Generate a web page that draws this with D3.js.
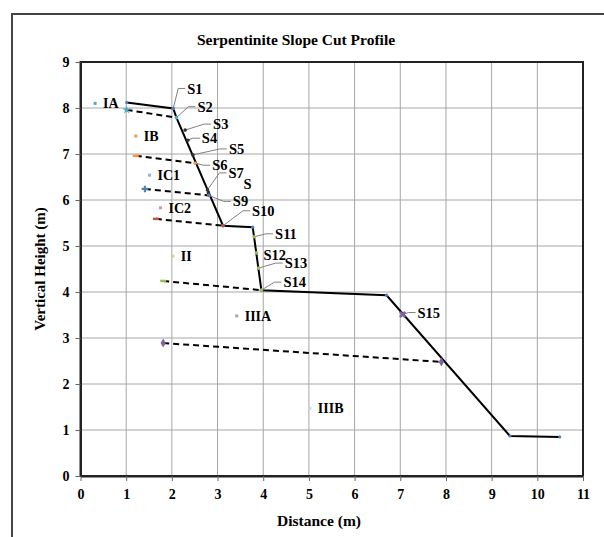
<!DOCTYPE html>
<meta charset="utf-8">
<script src="https://d3js.org/d3.v7.min.js"></script>
<style>
    body { margin: 0; background: #fff; }
    text { font-family: "Liberation Serif", "Times New Roman", serif; font-weight: bold; fill: #000; }
</style>
<div id="my_dataviz"></div>
<script>

    // profile of the cut (solid line)
    var profileX = [1.01, 2.03, 2.10, 3.12, 3.77, 3.96, 6.70, 9.40, 10.49];
    var profileY = [8.12, 7.99, 7.79, 5.44, 5.41, 4.04, 3.93, 0.87, 0.85];

    // stations along the profile
    var stationNames = ["S1", "S2", "S3", "S4", "S5", "S6", "S7", "S", "S9", "S10", "S11", "S12", "S13", "S14", "S15"];
    var stationX = [2.03, 2.10, 2.29, 2.35, 2.46, 2.51, 2.78, 2.80, 2.81, 3.12, 3.80, 3.85, 3.90, 3.96, 7.05];
    var stationY = [7.99, 7.79, 7.52, 7.30, 6.98, 6.80, 6.22, 6.16, 6.10, 5.44, 5.20, 4.85, 4.52, 4.04, 3.51];

    // zone labels
    var zoneNames = ["IA", "IB", "IC1", "IC2", "II", "IIIA", "IIIB"];
    var zoneX = [0.32, 1.21, 1.51, 1.75, 2.02, 3.42, 5.02];
    var zoneY = [8.10, 7.39, 6.54, 5.83, 4.78, 3.48, 1.47];

    // dashed zone boundaries
    var dashX1 = [1.01, 1.21, 1.41, 1.65, 1.81, 1.81];
    var dashY1 = [7.96, 6.96, 6.24, 5.59, 4.24, 2.89];
    var dashX2 = [2.10, 2.51, 2.81, 3.12, 3.96, 7.90];
    var dashY2 = [7.79, 6.80, 6.10, 5.44, 4.04, 2.48];

    var xTicks = [0, 1, 2, 3, 4, 5, 6, 7, 8, 9, 10, 11];
    var yTicks = [0, 1, 2, 3, 4, 5, 6, 7, 8, 9];

    // styling (not data)
    var stationColor = ["#4F81BD", "#4BACC6", "#333", "#333", "#333", "#F79646", "#333", "#333", "#4F81BD", "#C0504D", "#9BBB59", "#9BBB59", "#9BBB59", "#9BBB59", "#8064A2"];
    // label offset from the point in px: [dx to text start, dy to text middle, leader?]
    var stationLabel = [[14, -20, 1], [21, -11, 1], [28, -6, 1], [14, -2, 1], [36, -6, 1], [17, 2, 1], [21, -17, 1], [35, -9, 0],
        [24, 6, 1], [29, -15, 1], [21, -3, 1], [7, 2, 0], [26, -5, 1], [22, -8, 1], [15, -2, 1]];
    var zoneColor = ["#4BACC6", "#F79646", "#95B3D7", "#D99694", "#C3D69B", "#A6A6A6", "#B7DEE8"];
    var dashColor = ["#4BACC6", "#F79646", "#4F81BD", "#C0504D", "#9BBB59", "#8064A2"];
    var dashSymbol = [d3.symbolStar, "dash", d3.symbolCross, "dash", "dash", d3.symbolDiamond];

    var width = 604, height = 537;

    var svg = d3.select("#my_dataviz")
        .append("svg")
        .attr("width", width)
        .attr("height", height);

    svg.append("rect").attr("width", width).attr("height", height).attr("fill", "#fff");

    // outer chart frame (runs off the page at right and bottom)
    svg.append("rect")
        .attr("x", 12).attr("y", 14)
        .attr("width", 640).attr("height", 600)
        .attr("fill", "none").attr("stroke", "#444").attr("stroke-width", 2);

    var x = d3.scaleLinear().domain([0, 11]).range([80.5, 583]);
    var y = d3.scaleLinear().domain([0, 9]).range([476, 62]);

    // grid
    svg.append("g").selectAll("line").data(xTicks).enter().append("line")
        .attr("x1", function(d) { return x(d); }).attr("x2", function(d) { return x(d); })
        .attr("y1", y(0)).attr("y2", y(9))
        .attr("stroke", "#a6a6a6").attr("stroke-width", 1);
    svg.append("g").selectAll("line").data(yTicks).enter().append("line")
        .attr("y1", function(d) { return y(d); }).attr("y2", function(d) { return y(d); })
        .attr("x1", x(0)).attr("x2", x(11))
        .attr("stroke", "#a6a6a6").attr("stroke-width", 1);

    // plot border
    svg.append("rect")
        .attr("x", x(0)).attr("y", y(9))
        .attr("width", x(11) - x(0)).attr("height", y(0) - y(9))
        .attr("fill", "none").attr("stroke", "#222").attr("stroke-width", 2);

    // axes
    var xAxis = svg.append("g")
        .attr("transform", "translate(0," + y(0) + ")")
        .call(d3.axisBottom(x).tickValues(xTicks).tickFormat(d3.format("d")).tickSize(5).tickSizeOuter(0));
    var yAxis = svg.append("g")
        .attr("transform", "translate(" + x(0) + ",0)")
        .call(d3.axisLeft(y).tickValues(yTicks).tickFormat(d3.format("d")).tickSize(5).tickSizeOuter(0));
    [xAxis, yAxis].forEach(function(a) {
        a.attr("font-size", 14).attr("font-family", "'Liberation Serif', serif");
        a.select(".domain").attr("stroke", "#222").attr("stroke-width", 2);
        a.selectAll(".tick line").attr("stroke", "#666");
        a.selectAll(".tick text")
            .style("font-weight", "bold").style("font-size", "14px").attr("fill", "#000");
    });
    xAxis.selectAll(".tick text").attr("dy", "1.05em");
    yAxis.selectAll(".tick text").attr("x", -11);

    // dashed boundaries
    svg.append("g").selectAll("line").data(dashX1).enter().append("line")
        .attr("x1", function(d) { return x(d); })
        .attr("y1", function(d, i) { return y(dashY1[i]); })
        .attr("x2", function(d, i) { return x(dashX2[i]); })
        .attr("y2", function(d, i) { return y(dashY2[i]); })
        .attr("stroke", "#000").attr("stroke-width", 2).attr("stroke-dasharray", "6,4");

    // profile
    var line = d3.line()
        .x(function(d) { return x(d); })
        .y(function(d, i) { return y(profileY[i]); });
    svg.append("path").datum(profileX)
        .attr("d", line)
        .attr("fill", "none").attr("stroke", "#000").attr("stroke-width", 2);

    // profile vertices
    svg.append("g").selectAll("circle").data(profileX).enter().append("circle")
        .attr("cx", function(d) { return x(d); })
        .attr("cy", function(d, i) { return y(profileY[i]); })
        .attr("r", 1.6).attr("fill", "#4F81BD");

    // dashed line end markers
    var markG = svg.append("g");
    function drawMark(px, py, sym, col) {
        if (sym === "dash") {
            markG.append("line").attr("x1", px - 3).attr("x2", px + 3).attr("y1", py).attr("y2", py)
                .attr("stroke", col).attr("stroke-width", 2.5);
        } else {
            markG.append("path").attr("d", d3.symbol().type(sym).size(24)())
                .attr("transform", "translate(" + px + "," + py + ")")
                .attr("fill", col);
        }
    }
    dashX1.forEach(function(d, i) {
        drawMark(x(d), y(dashY1[i]), dashSymbol[i], dashColor[i]);
    });
    drawMark(x(dashX2[5]), y(dashY2[5]), d3.symbolDiamond, dashColor[5]);

    // station markers, leaders, labels
    var sg = svg.append("g");
    stationNames.forEach(function(name, i) {
        var px = x(stationX[i]), py = y(stationY[i]);
        var lab = stationLabel[i];
        var tx = px + lab[0], ty = py + lab[1];
        if (lab[2]) {
            sg.append("polyline")
                .attr("points", [[px, py], [tx - 9, ty], [tx - 2, ty]].map(function(p) { return p.join(","); }).join(" "))
                .attr("fill", "none").attr("stroke", "#808080").attr("stroke-width", 1);
        }
        if (i === 14) {
            sg.append("path").attr("d", d3.symbol().type(d3.symbolCross).size(32)())
                .attr("transform", "translate(" + px + "," + py + ") rotate(45)")
                .attr("fill", stationColor[i]);
        } else {
            sg.append("circle").attr("cx", px).attr("cy", py).attr("r", 1.8).attr("fill", stationColor[i]);
        }
        sg.append("text").attr("x", tx).attr("y", ty).attr("dy", "0.35em")
            .style("font-size", "14.5px").text(name);
    });

    // zone labels
    var zg = svg.append("g");
    zoneNames.forEach(function(name, i) {
        var px = x(zoneX[i]), py = y(zoneY[i]);
        zg.append("rect").attr("x", px - 1.5).attr("y", py - 1.5).attr("width", 3).attr("height", 3)
            .attr("fill", zoneColor[i]);
        zg.append("text").attr("x", px + 8).attr("y", py).attr("dy", "0.35em")
            .style("font-size", "14px").text(name);
    });

    // titles
    svg.append("text").attr("x", 296).attr("y", 45).attr("text-anchor", "middle")
        .style("font-size", "15.5px").text("Serpentinite Slope Cut Profile");
    svg.append("text").attr("x", 319).attr("y", 526).attr("text-anchor", "middle")
        .style("font-size", "15.5px").text("Distance (m)");
    svg.append("text").attr("transform", "translate(45,269) rotate(-90)").attr("text-anchor", "middle")
        .style("font-size", "15px").text("Vertical Height (m)");

</script>
